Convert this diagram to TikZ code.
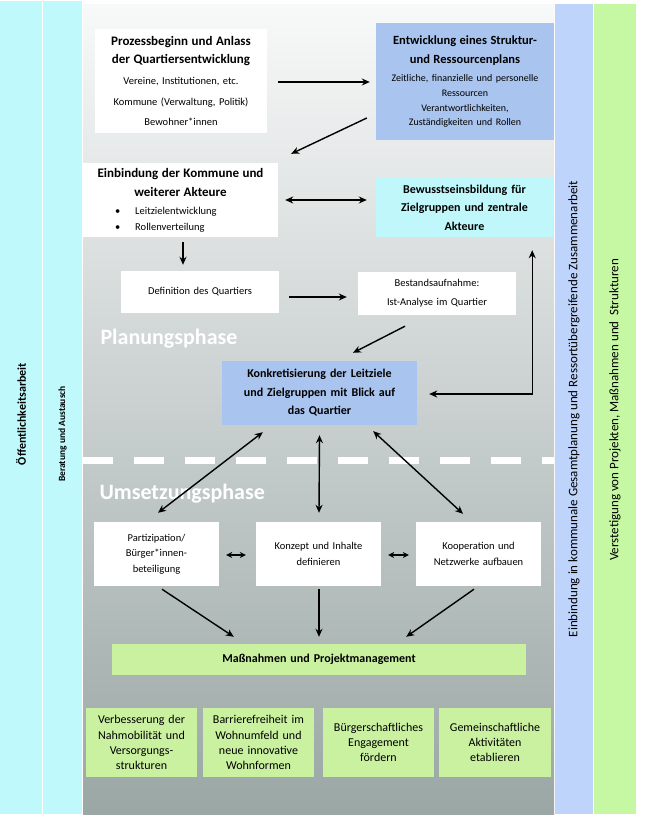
\documentclass[tikz,border=0pt]{standalone}
\usepackage{fontspec}
\setmainfont{Carlito}
\usetikzlibrary{calc,arrows.meta}
\definecolor{sidecyan}{RGB}{192,249,252}
\definecolor{sideblue}{RGB}{190,212,250}
\definecolor{sidegreen}{RGB}{198,248,164}
\definecolor{boxblue}{RGB}{169,196,238}
\definecolor{boxcyan}{RGB}{192,247,250}
\definecolor{boxgreen}{RGB}{201,241,160}
\definecolor{bgtop}{RGB}{248,249,249}
\definecolor{bgmid}{RGB}{218,223,223}
\definecolor{bgbot}{RGB}{154,167,165}

\begin{document}
\begin{tikzpicture}[x=1pt, y=-1pt,
        box/.style={rectangle, inner sep=0pt, align=center, font=\fontsize{10.5}{15.5}\selectfont},
        wbox/.style={box, fill=white},
        sz/.style 2 args={minimum width=#1pt, text width=#1pt, minimum height=#2pt},
        side/.style={rotate=90, font=\fontsize{13}{15}\selectfont},
        arr/.style={-{Stealth[length=8pt,width=7pt]}, line width=1.4pt},
        darr/.style={{Stealth[length=8pt,width=7pt]}-{Stealth[length=8pt,width=7pt]}, line width=1.4pt},
        sdarr/.style={{Stealth[length=6pt,width=6pt]}-{Stealth[length=6pt,width=6pt]}, line width=1.4pt},
        phase/.style={anchor=base west, text=white, font=\bfseries\fontsize{22}{26}\selectfont}]
    \useasboundingbox (0,0) rectangle (650,819);
    \fill[sidecyan] (0,1) rectangle (42,814);
    \fill[sidecyan] (43,1) rectangle (82,814);
    \shade[top color=bgtop, middle color=bgmid, bottom color=bgbot] (83,4) rectangle (554,814);
    \fill[sideblue] (555,4) rectangle (593,814);
    \fill[sidegreen] (594,4) rectangle (636,814);

    \node[side, font=\bfseries\fontsize{12}{14}\selectfont] (oeff) at (21,414) {Öffentlichkeitsarbeit};
    \node[side, font=\bfseries\fontsize{9.5}{12}\selectfont] (berat) at (62.5,434) {Beratung und Austausch};
    \node[side] (einb) at (574,409) {Einbindung in kommunale Gesamtplanung und Ressortübergreifende Zusammenarbeit};
    \node[side] (verst) at (615,410) {Verstetigung von Projekten, Maßnahmen und~ Strukturen};

    \draw[white, line width=7pt, dash pattern=on 30pt off 21pt] (83,460) -- (554,460);
    \node[phase] (planung) at (97,344) {Planungsphase};
    \node[phase] (umsetzung) at (96,499) {Umsetzungsphase};

    \node[wbox, sz={172}{104}] (start) at (181,81) {{\bfseries\fontsize{13}{18}\selectfont Prozessbeginn und Anlass\\der Quartiersentwicklung\par}\vspace{1pt}{\fontsize{10.5}{20.5}\selectfont Vereine, Institutionen, etc.\\Kommune (Verwaltung, Politik)\\Bewohner*innen\par}};
    \node[box, fill=boxblue, sz={178}{117}] (plan) at (465,81.5) {{\bfseries\fontsize{12.5}{19}\selectfont Entwicklung eines Struktur-\\und Ressourcenplans\par}\vspace{4pt}{\fontsize{10}{14.7}\selectfont Zeitliche, finanzielle und personelle\\Ressourcen\\Verantwortlichkeiten,\\Zuständigkeiten und Rollen\par}};
    \node[wbox, sz={195}{74}] (kommune) at (180.5,200) {{\bfseries\fontsize{13}{19}\selectfont Einbindung der Kommune und\\weiterer Akteure\par}\vspace{2pt}{\fontsize{10.5}{16}\selectfont \makebox[\linewidth][l]{\hspace{32pt}\textbullet\hspace{15pt}Leitzielentwicklung}\\\makebox[\linewidth][l]{\hspace{32pt}\textbullet\hspace{15pt}Rollenverteilung}\par}};
    \node[box, fill=boxcyan, sz={177}{59}, font=\bfseries\fontsize{12}{18.5}\selectfont] (bewusst) at (464.5,207.5) {Bewusstseinsbildung für\\Zielgruppen und zentrale\\Akteure};
    \node[wbox, sz={158}{42}] (quartier) at (200,292) {Definition des Quartiers};
    \node[wbox, sz={158}{43}, font=\fontsize{10.5}{19}\selectfont] (bestand) at (437,293.5) {Bestandsaufnahme:\\Ist-Analyse im Quartier};
    \node[box, fill=boxblue, sz={195}{64}, font=\bfseries\fontsize{12}{18.5}\selectfont] (konkret) at (319.5,393) {Konkretisierung der Leitziele\\und Zielgruppen mit Blick auf\\das Quartier};
    \node[wbox, sz={125}{64}] (partiz) at (156.5,554) {Partizipation/\\Bürger*innen-\\beteiligung};
    \node[wbox, sz={125}{64}] (konzept) at (318.5,554) {Konzept und Inhalte\\definieren};
    \node[wbox, sz={125}{64}] (koop) at (478.5,554) {Kooperation und\\Netzwerke aufbauen};
    \node[box, fill=boxgreen, sz={414}{31}, font=\bfseries\fontsize{12}{15}\selectfont] (mass) at (319,659.5) {Maßnahmen und Projektmanagement};
    \foreach \x/\w/\t [count=\i] in {141.5/111/{Verbesserung der\\Nahmobilität und\\Versorgungs-\\strukturen},
            258.5/111/{Barrierefreiheit im\\Wohnumfeld und\\neue innovative\\Wohnformen},
            378.5/111/{Bürgerschaftliches\\Engagement\\fördern},
            495/112/{Gemeinschaftliche\\Aktivitäten\\etablieren}} {
        \node[box, fill=boxgreen, sz={\w}{69}, font=\fontsize{12}{15.2}\selectfont] (G\i) at (\x,742.5) {\t};
    }

    \draw[arr] ($(start.east)+(11,1)$) -- ($(plan.west)+(-6,0.5)$);
    \draw[arr] ($(plan.west)+(-9,36.5)$) -- ($(kommune.north east)+(13,-9)$);
    \draw[darr] ($(kommune.east)+(7,0)$) -- ($(bewusst.west)+(-9,-7.5)$);
    \draw[arr] ($(kommune.south)+(2.5,5)$) -- ($(quartier.north)+(-17,-6)$);
    \draw[arr] ($(quartier.east)+(10,5)$) -- ($(bestand.west)+(-11,3.5)$);
    \draw[arr] ($(bestand.south)+(-32,11)$) -- ($(konkret.north)+(33.5,-8)$);
    \draw[darr] ($(konkret.east)+(12,1)$) -| ($(bewusst.south east)+(-21,13)$);
    \draw[darr] ($(konkret.south west)+(41,7)$) -- ($(partiz.north)+(1.5,-9)$);
    \draw[darr] ($(konkret.south)+(0,10)$) -- ($(konzept.north)+(0.5,-9)$);
    \draw[darr] ($(konkret.south east)+(-44,6)$) -- ($(koop.north)+(-15.5,-8)$);
    \draw[sdarr] ($(partiz.east)+(7,1)$) -- ($(konzept.west)+(-10,1)$);
    \draw[sdarr] ($(konzept.east)+(7,1)$) -- ($(koop.west)+(-7,1)$);
    \draw[arr] ($(partiz.south)+(5.5,3)$) -- ($(mass.north west)+(122,-7)$);
    \draw[arr] ($(konzept.south)+(0.5,3)$) -- ($(mass.north)+(0,-7)$);
    \draw[arr] ($(koop.south)+(-4.5,3)$) -- ($(mass.north east)+(-120,-7)$);
\end{tikzpicture}
\end{document}
